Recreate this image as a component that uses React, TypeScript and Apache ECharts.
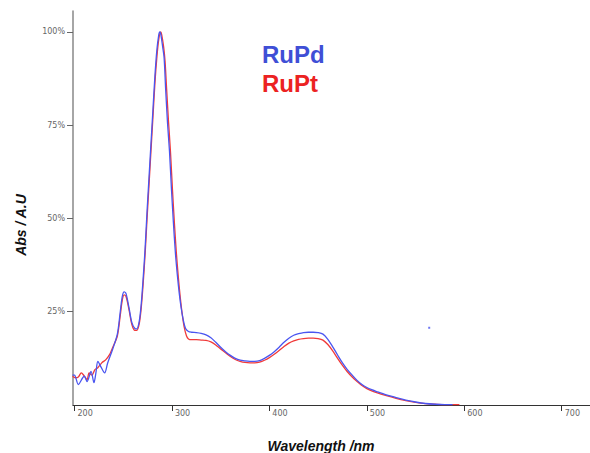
import React, { useEffect, useRef } from "react";
import * as echarts from "echarts";

const xTickValues = [200, 300, 400, 500, 600, 700];
const yTickValues = [25, 50, 75, 100];

const ruPdWavelength = [
  198, 200, 204, 210, 213, 217, 220, 222, 224, 227, 231, 234, 239, 244, 247, 249, 251, 253, 256, 259, 262, 264,
  266.5, 268.5, 270.5, 272.5, 274.5, 276.5, 278.5, 280.5, 282.5, 284.5, 286.5, 287.5, 288.5, 290.5, 292, 293.5, 295.5,
  297.5, 299.5, 301.5, 303.5, 305.5, 307.5, 309.5, 311.5, 314, 317, 320, 325, 330, 335, 340, 345, 350, 355, 360, 365,
  370, 375, 380, 385, 390, 395, 400, 405, 410, 415, 420, 425, 430, 435, 440, 445, 450, 455, 460, 465, 470, 475, 480,
  485, 490, 495, 500, 505, 510, 520, 530, 540, 550, 560, 570, 580, 588,
];
const ruPdAbs = [
  8.0, 8.0, 5.5, 7.7, 6.3, 9.0, 6.0, 8.6, 11.7, 10.3, 8.6, 11.2, 14.8, 19, 25, 29, 30.3, 29.8, 26, 22, 20.5, 20.4,
  22.5, 27, 34, 42, 52, 61, 70, 79, 88, 95, 99.2, 100, 99.5, 96, 93, 85, 75.5,
  68, 58, 49, 41, 35, 30, 26, 23, 20.5, 19.7, 19.5, 19.4, 19.2, 18.8, 18, 16.8, 15.5, 14.3, 13.3, 12.5,
  12, 11.8, 11.7, 11.7, 11.9, 12.5, 13.3, 14.3, 15.5, 16.8, 17.9, 18.7, 19.1, 19.4, 19.5, 19.5, 19.4, 19.0, 17.6, 15.6, 13.4, 11.3, 9.5,
  8.0, 6.6, 5.5, 4.7, 4.1, 3.6, 2.7, 2.0, 1.3, 0.8, 0.4, 0.2, 0.1, 0.1,
];

const ruPtWavelength = [
  198, 201, 204, 207, 210, 213, 215, 218, 221, 224, 228, 232, 236, 239, 244, 247, 249, 251, 253, 256, 259, 262, 264,
  266.5, 268.5, 270.5, 272.5, 274.5, 276.5, 278.5, 280.5, 282.5, 284.5, 286.5, 288.5, 289.5, 291.5, 293, 294.5, 296.5,
  298.5, 300.5, 302.5, 304.5, 306.5, 308.5, 310.5, 312.5, 315, 317, 320, 325, 330, 335, 340, 345, 350, 355, 360, 365,
  370, 375, 380, 385, 390, 395, 400, 405, 410, 415, 420, 425, 430, 435, 440, 445, 450, 455, 460, 465, 470, 475, 480,
  485, 490, 495, 500, 505, 510, 520, 530, 540, 550, 560, 570, 580, 595,
];
const ruPtAbs = [
  7.7, 7.3, 7.5, 8.6, 7.8, 6.8, 8.6, 8.0, 9.5, 10.0, 11.3, 12.1, 13.5, 15.3, 18.5, 24, 28, 29.5, 29, 25.5, 21.5, 20, 20,
  21.8, 26, 32.5, 40.5, 50, 59, 68, 77, 86, 93, 98, 100, 99.3, 96, 92, 85, 76,
  68, 58, 49, 41, 34.5, 29, 24.5, 21, 18.5, 17.7, 17.5, 17.5, 17.4, 17.3, 16.9, 16.1, 15.0, 14.0, 13.0, 12.2,
  11.7, 11.4, 11.3, 11.3, 11.5, 12.0, 12.7, 13.6, 14.6, 15.7, 16.6, 17.2, 17.6, 17.8, 17.9, 17.9, 17.8, 17.4, 16.2, 14.5, 12.5, 10.6, 8.9,
  7.5, 6.3, 5.2, 4.4, 3.8, 3.3, 2.5, 1.8, 1.2, 0.7, 0.35, 0.2, 0.1, 0.1,
];

const strayPoint = [564, 20.7];

const zip = (xs: number[], ys: number[]) => xs.map((x, i) => [x, ys[i]]);

export default function App() {
  const ref = useRef<HTMLDivElement>(null);
  useEffect(() => {
    if (!ref.current) return;
    const chart = echarts.init(ref.current, null, { renderer: "svg" });
    const labelFont = "DejaVu Sans";
    chart.setOption({
      animation: false,
      backgroundColor: "#ffffff",
      grid: { left: 73, right: 0, top: 11, bottom: 48, containLabel: false },
      xAxis: {
        type: "value",
        min: 198.5,
        max: 729,
        axisLine: { show: true, lineStyle: { color: "#333333", width: 1 } },
        axisTick: { show: true, customValues: xTickValues, length: 6, lineStyle: { color: "#333333" } },
        axisLabel: {
          customValues: xTickValues,
          align: "left",
          verticalAlign: "top",
          margin: 4,
          padding: [0, 0, 0, 3],
          fontSize: 8,
          fontFamily: labelFont,
          color: "#666666",
        },
        splitLine: { show: false },
      },
      yAxis: {
        type: "value",
        min: 0,
        max: 105.6,
        axisLine: { show: true, lineStyle: { color: "#888888", width: 1.5 } },
        axisTick: { show: true, customValues: yTickValues, length: 6, lineStyle: { color: "#666666" } },
        axisLabel: {
          customValues: yTickValues,
          formatter: (v: number) => v + "%",
          margin: 8,
          fontSize: 8,
          fontFamily: labelFont,
          color: "#666666",
        },
        splitLine: { show: false },
      },
      series: [
        {
          name: "RuPt",
          type: "line",
          data: zip(ruPtWavelength, ruPtAbs),
          showSymbol: false,
          smooth: 0.3,
          lineStyle: { color: "#f03a3a", width: 1.3 },
          itemStyle: { color: "#f03a3a" },
          z: 2,
        },
        {
          name: "RuPd",
          type: "line",
          data: zip(ruPdWavelength, ruPdAbs),
          showSymbol: false,
          smooth: 0.3,
          lineStyle: { color: "#4a55f0", width: 1.3 },
          itemStyle: { color: "#4a55f0" },
          z: 3,
        },
        {
          name: "stray",
          type: "scatter",
          data: [strayPoint],
          symbol: "rect",
          symbolSize: 2,
          itemStyle: { color: "#4a55f0" },
          z: 4,
        },
      ],
      graphic: [
        {
          type: "text",
          x: 262,
          y: 54,
          style: {
            text: "RuPd",
            fontSize: 24,
            fontWeight: "bold",
            fontFamily: "Liberation Sans",
            fill: "#3f4fd6",
            verticalAlign: "middle",
            align: "left",
          },
        },
        {
          type: "text",
          x: 262,
          y: 83,
          style: {
            text: "RuPt",
            fontSize: 24,
            fontWeight: "bold",
            fontFamily: "Liberation Sans",
            fill: "#ec2222",
            verticalAlign: "middle",
            align: "left",
          },
        },
        {
          type: "text",
          x: 21,
          y: 225,
          rotation: Math.PI / 2,
          style: {
            text: "Abs / A.U",
            fontSize: 14,
            fontWeight: "bold",
            fontStyle: "italic",
            fontFamily: "Liberation Sans",
            fill: "#111111",
            align: "center",
            verticalAlign: "middle",
          },
        },
        {
          type: "text",
          x: 321,
          y: 446,
          style: {
            text: "Wavelength /nm",
            fontSize: 14,
            fontWeight: "bold",
            fontStyle: "italic",
            fontFamily: "Liberation Sans",
            fill: "#111111",
            align: "center",
            verticalAlign: "middle",
          },
        },
      ],
    });
    return () => chart.dispose();
  }, []);
  return (
    <div
      ref={ref}
      style={{ position: "fixed", left: 0, top: 0, width: 590, height: 453 }}
    />
  );
}
